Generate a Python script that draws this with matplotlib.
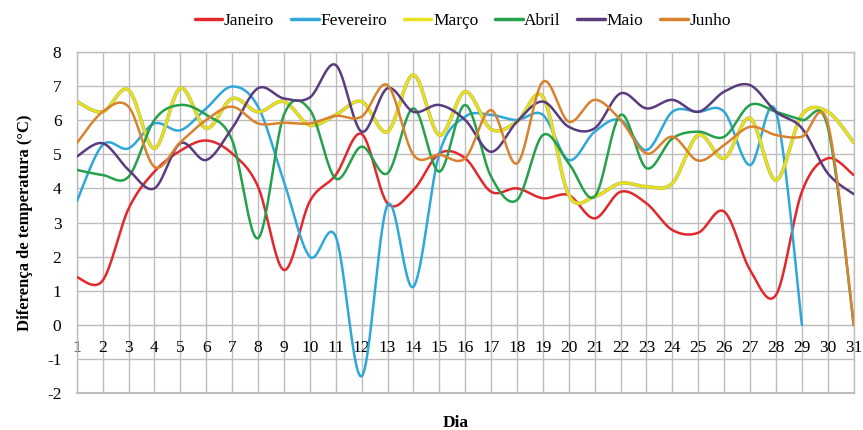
import numpy as np
import matplotlib
matplotlib.use("Agg")
import matplotlib.pyplot as plt
import matplotlib.patheffects as pe

days = list(range(1, 32))
janeiro = [1.40, 1.30, 3.40, 4.49, 5.10, 5.40, 5.02, 4.05, 1.61, 3.62,
           4.39, 5.59, 3.56, 3.95, 5.02, 4.88, 3.90, 4.00, 3.71, 3.80,
           3.12, 3.90, 3.56, 2.78, 2.70, 3.32, 1.61, 0.88, 3.90, 4.88, 4.39]
fevereiro = [3.61, 5.27, 5.17, 5.90, 5.70, 6.34, 6.98, 6.39, 4.20, 2.00,
             2.59, -1.50, 3.51, 1.12, 5.02, 6.10, 6.15, 6.00, 6.15, 4.83,
             5.66, 6.00, 5.12, 6.24, 6.24, 6.24, 4.68, 6.24, 0.00]
marco = [6.54, 6.24, 6.88, 5.17, 6.93, 5.76, 6.63, 6.24, 6.54, 5.85,
         6.15, 6.54, 5.66, 7.32, 5.56, 6.83, 5.73, 5.95, 6.68, 3.80,
         3.76, 4.15, 4.05, 4.15, 5.56, 4.88, 6.05, 4.24, 6.15, 6.24, 5.34]
abril = [4.54, 4.39, 4.34, 6.00, 6.44, 6.15, 5.41, 2.54, 6.15, 6.30,
         4.29, 5.22, 4.44, 6.34, 4.49, 6.44, 4.34, 3.66, 5.56, 4.73,
         3.76, 6.15, 4.59, 5.46, 5.66, 5.51, 6.44, 6.24, 6.00, 5.79, 0.00]
maio = [4.93, 5.32, 4.54, 4.00, 5.32, 4.83, 5.76, 6.93, 6.63, 6.66,
        7.61, 5.66, 6.93, 6.24, 6.44, 6.00, 5.07, 5.95, 6.54, 5.80,
        5.76, 6.78, 6.34, 6.59, 6.24, 6.83, 7.02, 6.24, 5.76, 4.44, 3.83]
junho = [5.32, 6.24, 6.39, 4.63, 5.35, 6.00, 6.39, 5.90, 5.92, 5.90,
         6.12, 6.10, 7.02, 4.98, 4.98, 4.88, 6.29, 4.73, 7.12, 5.95,
         6.59, 6.00, 5.02, 5.51, 4.81, 5.27, 5.80, 5.56, 5.51, 5.90, 0.00]

series_names = ["Janeiro", "Fevereiro", "Março", "Abril", "Maio", "Junho"]
series_values = [janeiro, fevereiro, marco, abril, maio, junho]
colors = ["#E2282C", "#2FA8D9", "#E6E21E", "#25A04B", "#5A3B7D", "#D9822E"]
yticks = list(range(-2, 9))


def smooth(xs, ys, n=30):
    """Excel-like smoothed line (Catmull-Rom Bezier segments)."""
    p = np.column_stack([xs, ys]).astype(float)
    out = [p[0]]
    m = len(p)
    t = np.linspace(0, 1, n)[1:, None]
    for i in range(m - 1):
        p0 = p[i - 1] if i > 0 else p[i]
        p1 = p[i]
        p2 = p[i + 1]
        p3 = p[i + 2] if i + 2 < m else p[i + 1]
        b1 = p1 + (p2 - p0) / 6.0
        b2 = p2 - (p3 - p1) / 6.0
        seg = ((1 - t) ** 3) * p1 + 3 * ((1 - t) ** 2) * t * b1 + 3 * (1 - t) * t ** 2 * b2 + t ** 3 * p2
        out.extend(seg)
    out = np.array(out)
    return out[:, 0], out[:, 1]


plt.rcParams['font.family'] = ['Liberation Serif', 'DejaVu Serif']
plt.rcParams['axes.unicode_minus'] = False

fig = plt.figure(figsize=(8.63, 4.30), dpi=100)
ax = fig.add_axes([0.0889, 0.0853, 0.9003, 0.7945])

grid_c = "#BDBDBD"
for name, vals, c in zip(series_names, series_values, colors):
    xs = days[:len(vals)]
    sx, sy = smooth(xs, vals)
    effects = None
    if name == "Março":
        effects = [pe.Stroke(linewidth=2.6, foreground="#B9B65A"), pe.Normal()]
    ax.plot(sx, sy, color=c, lw=1.8, label=name, solid_capstyle='round', zorder=3,
            path_effects=effects)

ax.set_xlim(1, 31)
ax.set_ylim(-2, 8)
ax.set_yticks(yticks)
ax.set_xticks(days)
ax.grid(True, color=grid_c, lw=1.0, zorder=0)
ax.set_axisbelow(True)

for s in ['top', 'left', 'right']:
    ax.spines[s].set_color(grid_c)
    ax.spines[s].set_linewidth(1.0)
ax.spines['bottom'].set_position(('data', 0))
ax.spines['bottom'].set_color(grid_c)
ax.axhline(-2, color=grid_c, lw=1.5, clip_on=False, zorder=1)

ax.tick_params(axis='x', length=0, pad=11, labelsize=12.5)
ax.tick_params(axis='y', length=0, pad=11, labelsize=12.5)

ax.set_ylabel("Diferença de temperatura (°C)", fontsize=12, fontweight='bold', labelpad=10)
fig.text(0.528, 0.006, "Dia", ha='center', va='baseline', fontsize=12.5, fontweight='bold')

leg = ax.legend(loc='lower center', bbox_to_anchor=(0.497, 1.045), ncol=6, frameon=False,
                fontsize=12.5, handlelength=1.6, handletextpad=0.1, columnspacing=0.95,
                borderaxespad=0)
for line in leg.get_lines():
    line.set_linewidth(2.5)
    line.set_path_effects([])

fig.savefig("out.png", dpi=100)
